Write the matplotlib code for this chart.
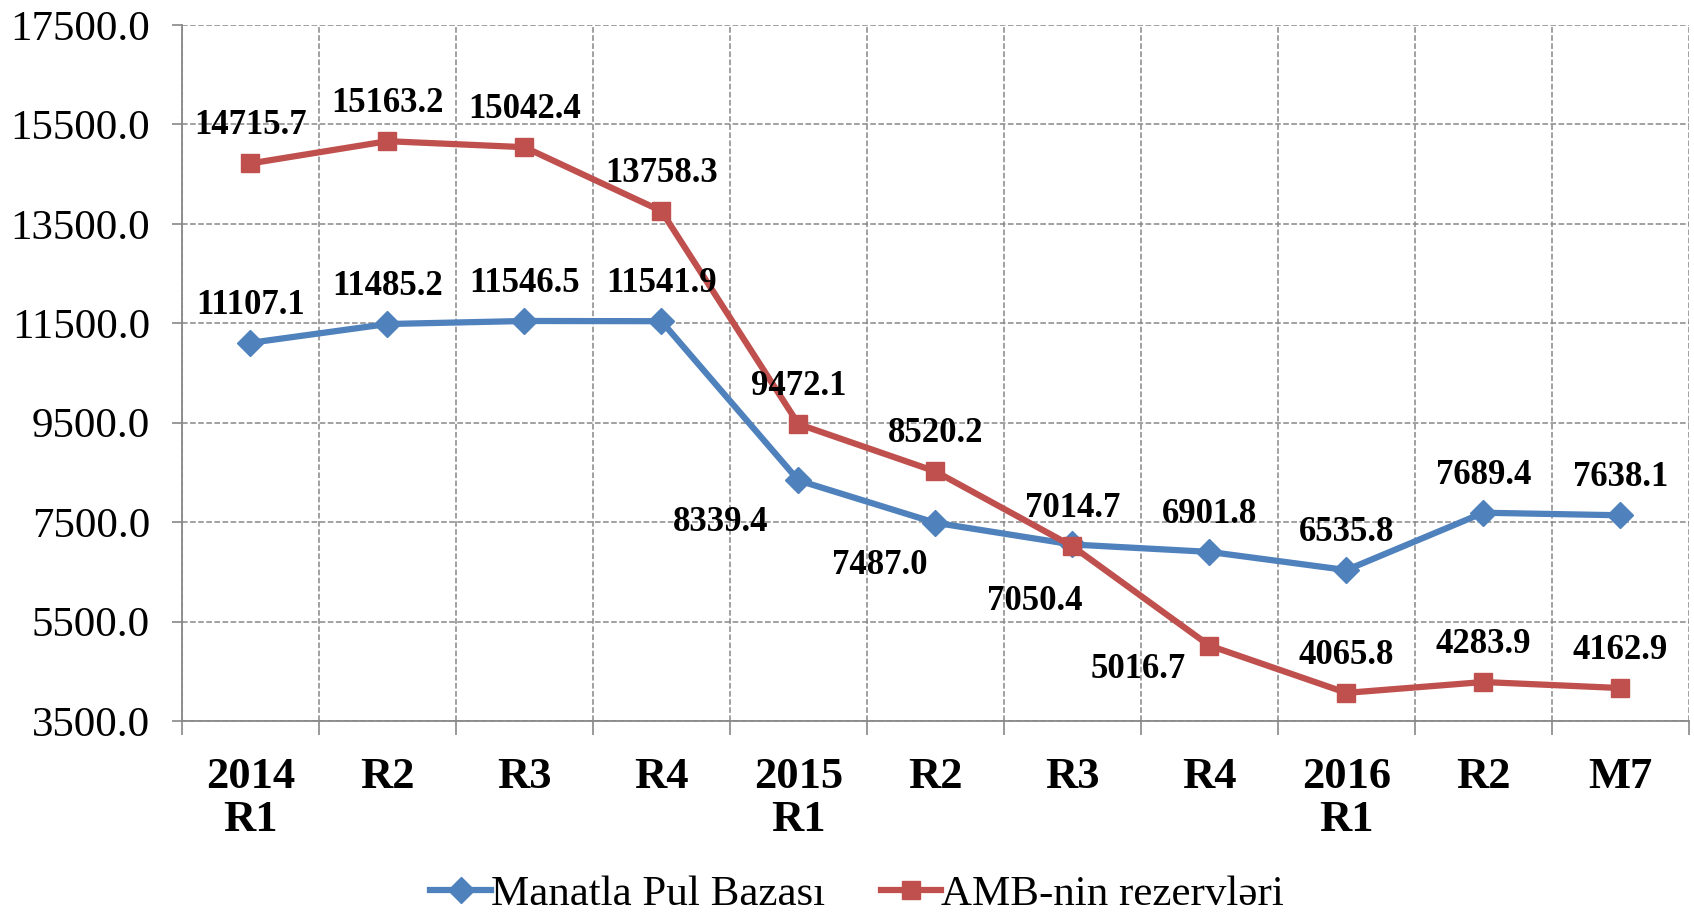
import numpy as np
import matplotlib
matplotlib.use("Agg")
import matplotlib.pyplot as plt
from matplotlib.ticker import FixedLocator, FormatStrFormatter

plt.rcParams['font.family'] = ['Liberation Serif', 'DejaVu Serif']

# data
categories = ['2014\nR1', 'R2', 'R3', 'R4', '2015\nR1', 'R2', 'R3', 'R4',
              '2016\nR1', 'R2', 'M7']
pul_bazasi = [11107.1, 11485.2, 11546.5, 11541.9, 8339.4, 7487.0, 7050.4,
              6901.8, 6535.8, 7689.4, 7638.1]
rezervler = [14715.7, 15163.2, 15042.4, 13758.3, 9472.1, 8520.2, 7014.7,
             5016.7, 4065.8, 4283.9, 4162.9]
series_names = ['Manatla Pul Bazası', 'AMB-nin rezervləri']

blue = '#4F81BD'
red = '#C0504D'

# label offsets in points (Excel placed a few labels below-left)
above = (0, 27)
blue_offsets = [above] * 4 + [(-56, -30), (-40, -31), (-27, -41)] + [above] * 4
red_offsets = [above] * 7 + [(-51, -17)] + [above] * 3

fig = plt.figure(figsize=(16.94, 9.13), dpi=100)
ax = fig.add_axes([0.1074, 0.2103, 0.8896, 0.7623])

x = np.arange(len(categories))
ax.plot(x, pul_bazasi, color=blue, lw=4.5, marker='D', markersize=13,
        label=series_names[0], zorder=3)
ax.plot(x, rezervler, color=red, lw=4.5, marker='s', markersize=13,
        label=series_names[1], zorder=3)

for xi, v, off in zip(x, pul_bazasi, blue_offsets):
    ax.annotate(f'{v:.1f}', (xi, v), xytext=off, textcoords='offset points',
                ha='center', va='center', fontsize=25, fontweight='bold')
for xi, v, off in zip(x, rezervler, red_offsets):
    ax.annotate(f'{v:.1f}', (xi, v), xytext=off, textcoords='offset points',
                ha='center', va='center', fontsize=25, fontweight='bold')

ax.set_xlim(-0.5, len(categories) - 0.5)
ax.set_ylim(3500, 17500)
ax.set_yticks(np.arange(3500, 17501, 2000))
ax.yaxis.set_major_formatter(FormatStrFormatter('%.1f'))

ax.set_xticks(x)
ax.set_xticklabels(categories, fontsize=32, fontweight='bold', linespacing=1.1)
ax.xaxis.set_minor_locator(FixedLocator(np.arange(-0.5, len(categories), 1.0)))
ax.tick_params(axis='x', which='major', length=0, pad=26)
ax.tick_params(axis='x', which='minor', length=10, width=1.2, color='#888888')
ax.tick_params(axis='y', length=7, width=1.2, color='#888888', labelsize=31, pad=16)

ax.grid(axis='y', which='major', linestyle='--', color='#888888', lw=1.1)
ax.grid(axis='x', which='minor', linestyle='--', color='#888888', lw=1.1)

for s in ['top', 'right']:
    ax.spines[s].set_visible(False)
for s in ['left', 'bottom']:
    ax.spines[s].set_color('#888888')
    ax.spines[s].set_linewidth(1.3)

fig.legend(loc='center', bbox_to_anchor=(0.506, 0.02), ncol=2, frameon=False,
           fontsize=31, handlelength=1.4, handletextpad=0.0, columnspacing=1.3)

fig.savefig('out.png', dpi=100)
